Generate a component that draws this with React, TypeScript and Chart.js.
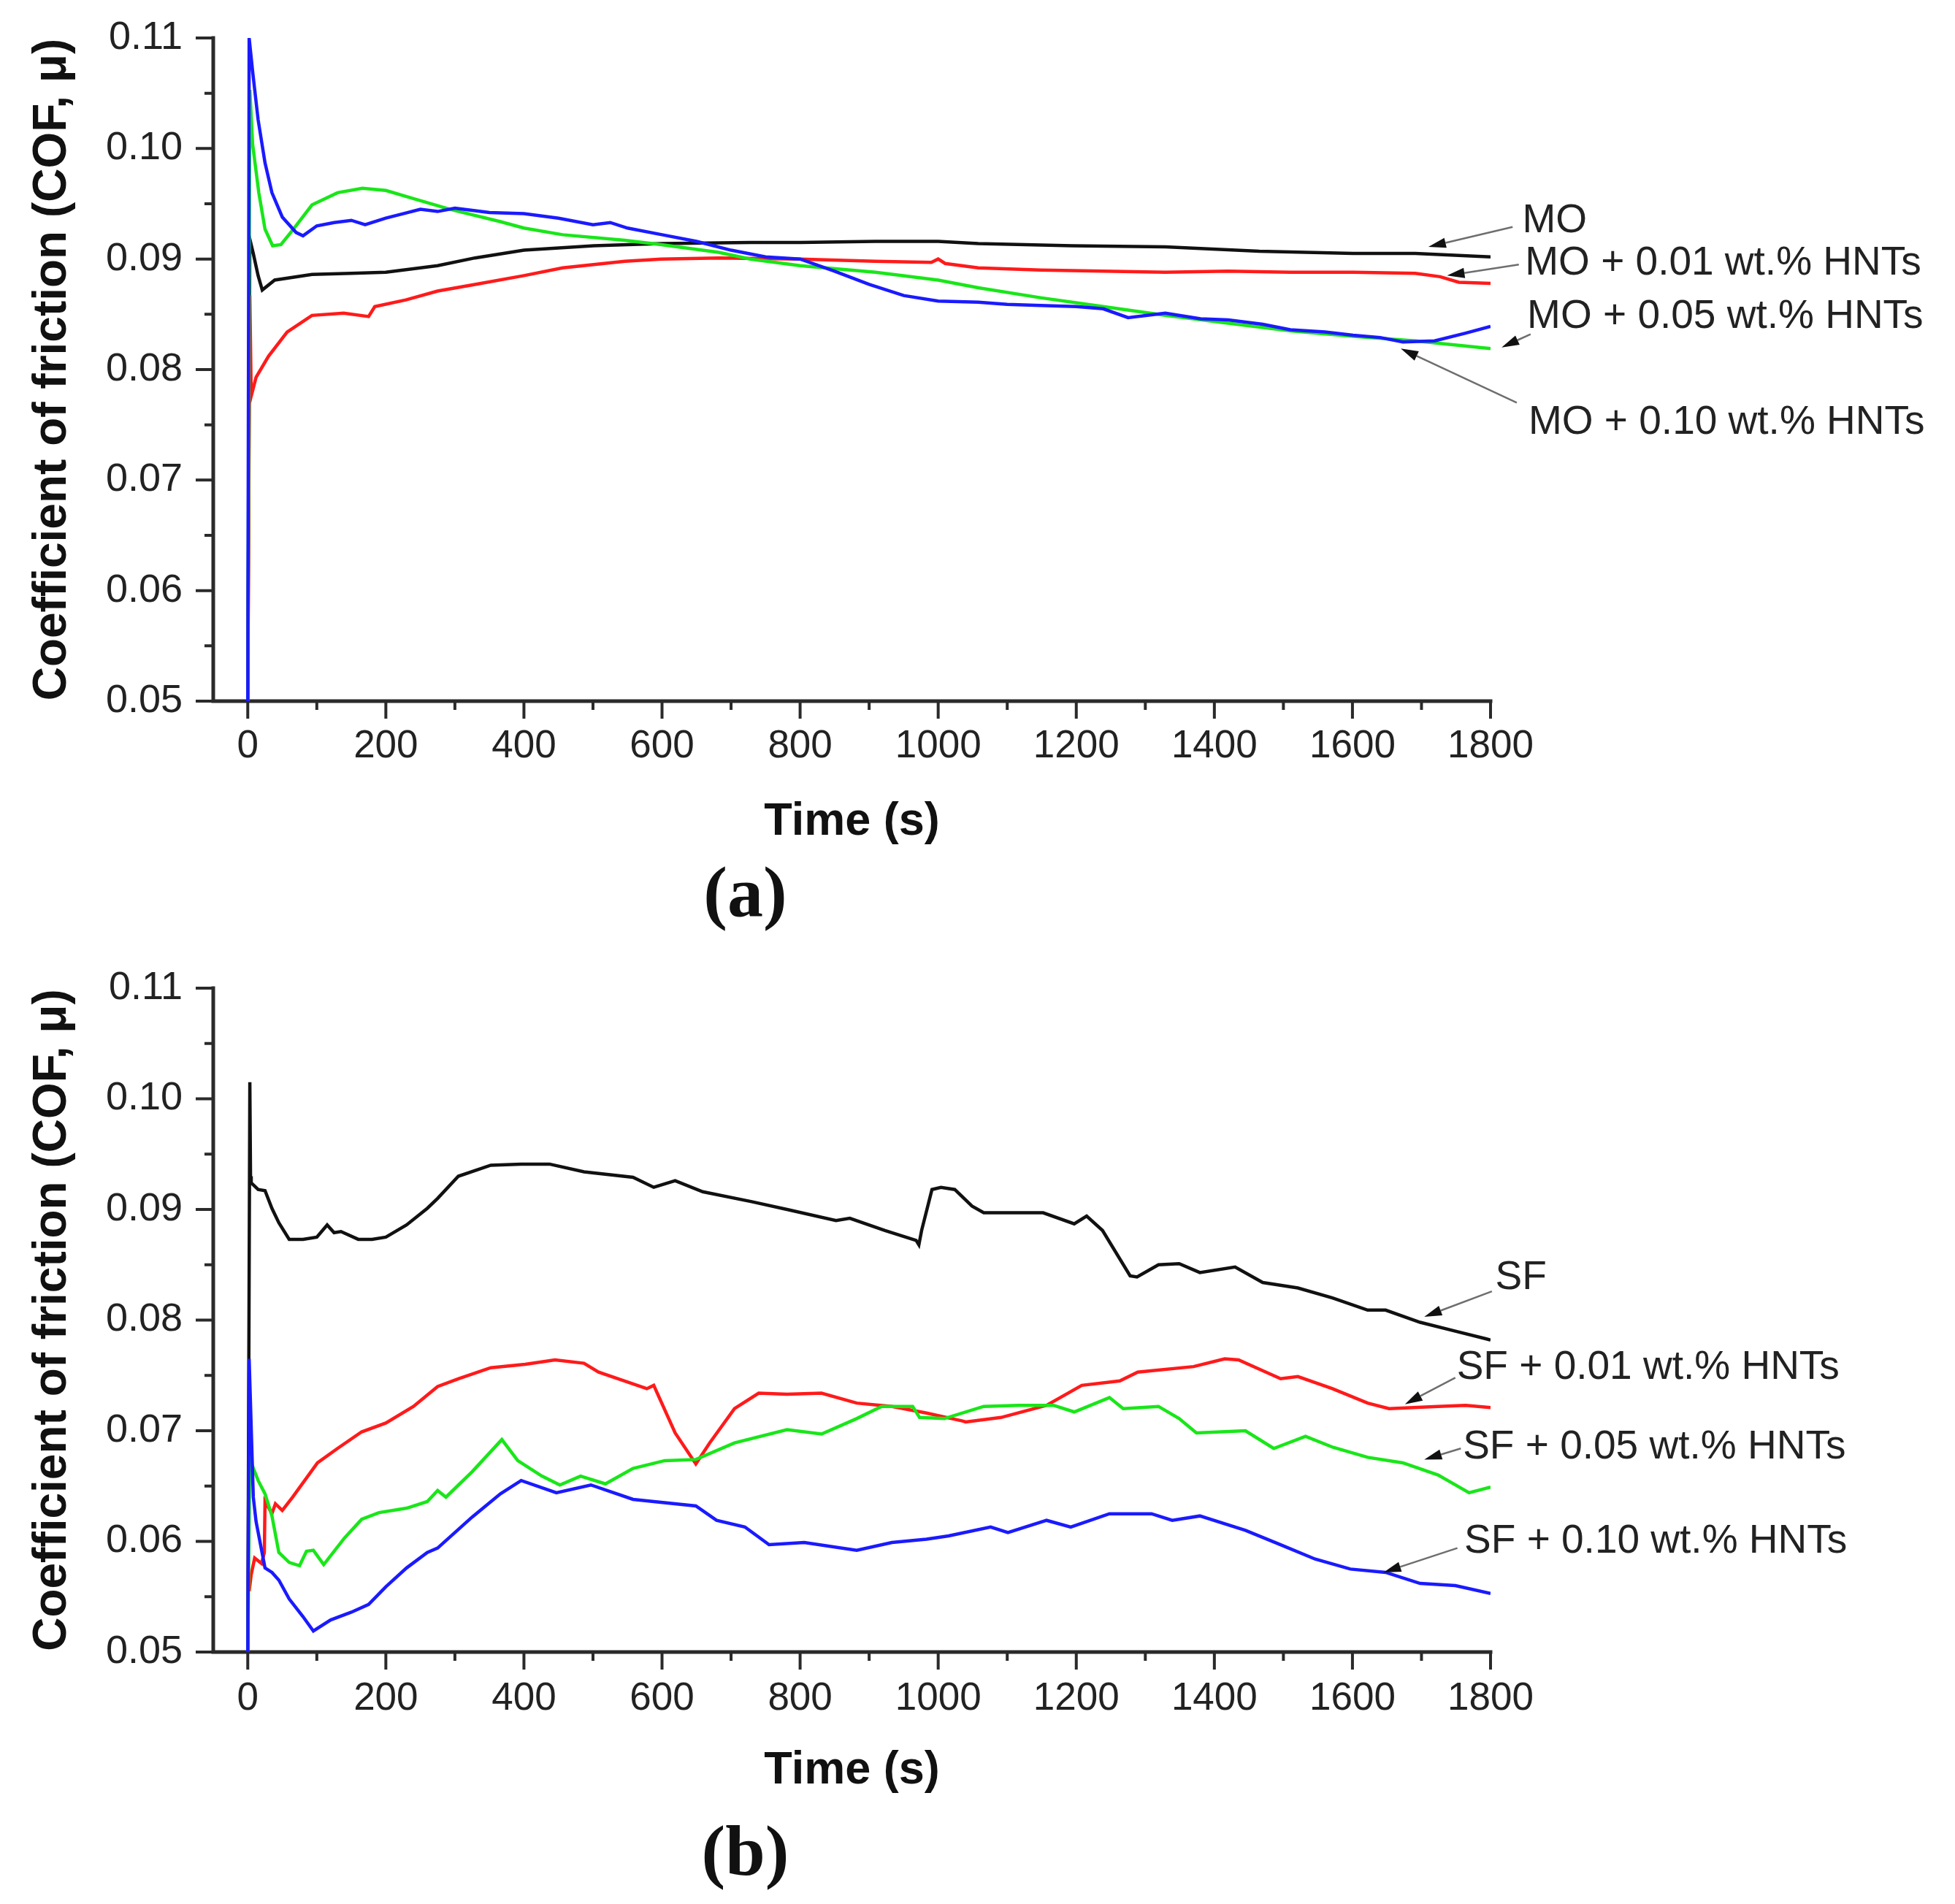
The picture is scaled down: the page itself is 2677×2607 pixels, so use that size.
import React, { useEffect, useRef } from "react";
import { Chart, registerables } from "chart.js";

Chart.register(...registerables);

// ---------- axis ticks ----------
const X_TICKS = [0, 100, 200, 300, 400, 500, 600, 700, 800, 900, 1000, 1100, 1200, 1300, 1400, 1500, 1600, 1700, 1800];
const Y_TICKS = [0.05, 0.055, 0.06, 0.065, 0.07, 0.075, 0.08, 0.085, 0.09, 0.095, 0.1, 0.105, 0.11];
const X_MIN = -50;
const X_MAX = 1800;
const Y_MIN = 0.05;
const Y_MAX = 0.11;

// ---------- panel (a): mineral oil ----------
const MO_T = [0, 3, 8, 15, 21, 39, 93, 150, 200, 275, 329, 400, 501, 599, 728, 800, 909, 1000, 1058, 1194, 1329, 1465, 1601, 1691, 1800];
const MO_MU = [0.05, 0.0918, 0.0905, 0.0885, 0.0872, 0.0881, 0.0886, 0.0887, 0.0888, 0.0894, 0.0901, 0.0908, 0.0912, 0.0914, 0.0915, 0.0915, 0.0916, 0.0916, 0.0914, 0.0912, 0.0911, 0.0907, 0.0905, 0.0905, 0.0902];

const MO01_T = [0, 3, 5, 12, 30, 57, 93, 139, 175, 184, 229, 275, 329, 400, 456, 546, 599, 682, 800, 909, 990, 1000, 1010, 1058, 1148, 1239, 1329, 1420, 1510, 1601, 1691, 1727, 1754, 1800];
const MO01_MU = [0.05, 0.0867, 0.0776, 0.0793, 0.0812, 0.0834, 0.0849, 0.0851, 0.0848, 0.0857, 0.0863, 0.0871, 0.0877, 0.0885, 0.0892, 0.0898, 0.09, 0.0901, 0.09, 0.0898, 0.0897, 0.09, 0.0896, 0.0892, 0.089, 0.0889, 0.0888, 0.0889, 0.0888, 0.0888, 0.0887, 0.0884, 0.0879, 0.0878];

const MO05_T = [0, 3, 7, 16, 25, 36, 48, 66, 93, 130, 166, 200, 238, 293, 365, 400, 456, 546, 599, 682, 728, 800, 909, 1000, 1058, 1148, 1239, 1329, 1420, 1510, 1601, 1691, 1800];
const MO05_MU = [0.05, 0.1053, 0.1004, 0.096, 0.0927, 0.0912, 0.0913, 0.0927, 0.0949, 0.096, 0.0964, 0.0962, 0.0955, 0.0945, 0.0934, 0.0928, 0.0922, 0.0917, 0.0913, 0.0906, 0.09, 0.0894, 0.0888, 0.0881, 0.0874, 0.0865, 0.0857, 0.0849, 0.0842, 0.0835, 0.083, 0.0826, 0.0819];

const MO10_T = [0, 2, 7, 15, 25, 35, 50, 70, 80, 100, 125, 150, 170, 200, 225, 250, 275, 300, 325, 350, 400, 450, 500, 525, 550, 600, 650, 700, 750, 800, 850, 900, 950, 1000, 1058, 1100, 1148, 1200, 1239, 1275, 1329, 1380, 1420, 1470, 1510, 1560, 1601, 1640, 1673, 1719, 1764, 1800];
const MO10_MU = [0.05, 0.11, 0.107, 0.1026, 0.0987, 0.096, 0.0938, 0.0924, 0.0921, 0.093, 0.0933, 0.0935, 0.0931, 0.0937, 0.0941, 0.0945, 0.0943, 0.0946, 0.0944, 0.0942, 0.0941, 0.0937, 0.0931, 0.0933, 0.0928, 0.0922, 0.0916, 0.0908, 0.0902, 0.09, 0.0889, 0.0877, 0.0867, 0.0862, 0.0861, 0.0859, 0.0858, 0.0857, 0.0855, 0.0847, 0.0851, 0.0846, 0.0845, 0.0841, 0.0836, 0.0834, 0.0831, 0.0829, 0.0825, 0.0826, 0.0833, 0.0839];

// ---------- panel (b): sunflower oil ----------
const SF_T = [0, 3, 4, 5, 15, 25, 35, 45, 60, 80, 100, 115, 125, 135, 160, 180, 200, 230, 260, 275, 305, 352, 396, 437, 487, 558, 588, 619, 659, 730, 781, 852, 872, 923, 968, 972, 976, 991, 1004, 1024, 1049, 1066, 1152, 1197, 1215, 1238, 1278, 1288, 1319, 1349, 1379, 1430, 1470, 1521, 1571, 1622, 1648, 1698, 1749, 1794, 1800];
const SF_MU = [0.05, 0.1015, 0.093, 0.0924, 0.0918, 0.0917, 0.0901, 0.0888, 0.0873, 0.0873, 0.0875, 0.0886, 0.0879, 0.088, 0.0873, 0.0873, 0.0875, 0.0886, 0.0901, 0.091, 0.093, 0.094, 0.0941, 0.0941, 0.0934, 0.0929, 0.092, 0.0926, 0.0916, 0.0907, 0.09, 0.089, 0.0892, 0.0881, 0.0872, 0.0868, 0.0881, 0.0918, 0.092, 0.0918, 0.0903, 0.0897, 0.0897, 0.0887, 0.0894, 0.0881, 0.084, 0.0839, 0.085, 0.0851, 0.0843, 0.0848, 0.0834, 0.0829, 0.082, 0.0809, 0.0809, 0.0798, 0.079, 0.0783, 0.0782];

const SF01_T = [2, 5, 10, 20, 24, 25, 35, 40, 50, 65, 101, 130, 165, 200, 240, 275, 305, 352, 402, 445, 487, 508, 578, 588, 619, 649, 669, 705, 740, 781, 831, 882, 933, 983, 1034, 1040, 1091, 1157, 1208, 1263, 1289, 1370, 1415, 1435, 1496, 1521, 1571, 1622, 1653, 1724, 1764, 1800];
const SF01_MU = [0.0555, 0.057, 0.0585, 0.058, 0.059, 0.0636, 0.0625, 0.0634, 0.0628, 0.064, 0.0671, 0.0684, 0.0699, 0.0707, 0.0722, 0.074, 0.0747, 0.0757, 0.076, 0.0764, 0.0761, 0.0753, 0.0738, 0.0741, 0.0698, 0.067, 0.0689, 0.072, 0.0734, 0.0733, 0.0734, 0.0725, 0.0722, 0.0716, 0.0709, 0.0708, 0.0712, 0.0723, 0.0741, 0.0745, 0.0753, 0.0758, 0.0765, 0.0764, 0.0747, 0.0749, 0.0738, 0.0725, 0.072, 0.0722, 0.0723, 0.0721];

const SF05_T = [0, 3, 5, 15, 25, 35, 45, 60, 75, 85, 95, 110, 140, 165, 190, 230, 260, 275, 287, 325, 368, 391, 426, 452, 482, 518, 558, 604, 649, 705, 781, 831, 882, 918, 963, 973, 1009, 1066, 1116, 1167, 1197, 1248, 1268, 1319, 1349, 1374, 1445, 1486, 1532, 1572, 1622, 1673, 1724, 1769, 1800];
const SF05_MU = [0.05, 0.068, 0.0671, 0.0655, 0.0643, 0.0623, 0.059, 0.0581, 0.0578, 0.0591, 0.0592, 0.0579, 0.0603, 0.062, 0.0626, 0.063, 0.0636, 0.0646, 0.064, 0.0663, 0.0692, 0.0673, 0.0659, 0.0651, 0.0659, 0.0652, 0.0666, 0.0673, 0.0674, 0.0689, 0.0701, 0.0697, 0.0711, 0.0722, 0.0722, 0.0712, 0.0711, 0.0722, 0.0723, 0.0723, 0.0717, 0.073, 0.072, 0.0722, 0.0711, 0.0698, 0.07, 0.0684, 0.0695, 0.0685, 0.0676, 0.0671, 0.066, 0.0644, 0.0649];

const SF10_T = [0, 2, 8, 12, 25, 35, 45, 60, 80, 95, 120, 150, 175, 200, 230, 260, 275, 325, 366, 396, 447, 497, 558, 649, 679, 720, 755, 806, 882, 933, 983, 1015, 1076, 1101, 1157, 1192, 1248, 1309, 1339, 1379, 1445, 1496, 1546, 1597, 1648, 1698, 1749, 1800];
const SF10_MU = [0.05, 0.0765, 0.064, 0.0618, 0.0576, 0.0572, 0.0565, 0.0548, 0.0532, 0.0519, 0.0529, 0.0536, 0.0543, 0.0559, 0.0576, 0.059, 0.0594, 0.0622, 0.0643, 0.0655, 0.0644, 0.0651, 0.0638, 0.0632, 0.0619, 0.0613, 0.0597, 0.0599, 0.0592, 0.0599, 0.0602, 0.0605, 0.0613, 0.0608, 0.0619, 0.0613, 0.0625, 0.0625, 0.0619, 0.0623, 0.061, 0.0597, 0.0584, 0.0575, 0.0572, 0.0562, 0.056, 0.0553];

// ---------- annotation labels (data units) ----------
const A_NOTE_TEXT = ["MO", "MO + 0.01 wt.% HNTs", "MO + 0.05 wt.% HNTs", "MO + 0.10 wt.% HNTs"];
const A_NOTE_X = [1846, 1850, 1853, 1855];
const A_NOTE_Y = [0.0934, 0.0896, 0.0848, 0.0752];
const A_ARROW_FROM_X = [1832, 1841, 1858, 1838];
const A_ARROW_FROM_Y = [0.0929, 0.0895, 0.0832, 0.077];
const A_ARROW_TIP_X = [1710, 1737, 1816, 1670];
const A_ARROW_TIP_Y = [0.0911, 0.0885, 0.082, 0.0819];

const B_NOTE_TEXT = ["SF", "SF + 0.01 wt.% HNTs", "SF + 0.05 wt.% HNTs", "SF + 0.10 wt.% HNTs"];
const B_NOTE_X = [1807, 1751, 1760, 1762];
const B_NOTE_Y = [0.0838, 0.0757, 0.0685, 0.06];
const B_ARROW_FROM_X = [1802, 1749, 1757, 1752];
const B_ARROW_FROM_Y = [0.0826, 0.0748, 0.0684, 0.0594];
const B_ARROW_TIP_X = [1704, 1676, 1704, 1645];
const B_ARROW_TIP_Y = [0.0803, 0.0724, 0.0674, 0.0572];

const SERIES_COLORS = ["#111111", "#ff1a1a", "#19e619", "#1a1aff"];

// ---------- layout / style ----------
const W = 2677;
const SANS = "'Liberation Sans', Arial, Helvetica, sans-serif";
const SERIF = "'Liberation Serif', 'Times New Roman', serif";
const AXIS_COLOR = "#2a2a2a";
const TEXT_COLOR = "#222222";

const isMajorY = (v: number) => Math.abs(v * 100 - Math.round(v * 100)) < 1e-6;
const isMajorX = (v: number) => Math.round(v) % 200 === 0;

const axesPlugin = {
  id: "originAxes",
  beforeDatasetsDraw(chart: any) {
    const { ctx, chartArea, scales } = chart;
    const { left, right, top, bottom } = chartArea;
    ctx.save();
    ctx.strokeStyle = AXIS_COLOR;
    ctx.lineWidth = 5;
    ctx.lineCap = "square";
    ctx.beginPath();
    ctx.moveTo(left, top);
    ctx.lineTo(left, bottom);
    ctx.lineTo(right, bottom);
    ctx.stroke();
    ctx.lineCap = "butt";
    ctx.lineWidth = 4;
    ctx.beginPath();
    for (const v of X_TICKS) {
      const px = scales.x.getPixelForValue(v);
      const len = isMajorX(v) ? 24 : 12;
      ctx.moveTo(px, bottom);
      ctx.lineTo(px, bottom + len);
    }
    for (const v of Y_TICKS) {
      const py = scales.y.getPixelForValue(v);
      const len = isMajorY(v) ? 24 : 12;
      ctx.moveTo(left, py);
      ctx.lineTo(left - len, py);
    }
    ctx.stroke();
    ctx.restore();
  },
};

const notesPlugin = {
  id: "arrowNotes",
  afterDraw(chart: any, _args: any, opts: any) {
    const { ctx, scales } = chart;
    const n = opts.text ? opts.text.length : 0;
    ctx.save();
    for (let i = 0; i < n; i++) {
      const tx = scales.x.getPixelForValue(opts.x[i]);
      const ty = scales.y.getPixelForValue(opts.y[i]);
      ctx.font = `55px ${SANS}`;
      ctx.fillStyle = TEXT_COLOR;
      ctx.textAlign = "left";
      ctx.textBaseline = "middle";
      ctx.fillText(opts.text[i], tx, ty);

      const fx = scales.x.getPixelForValue(opts.fromX[i]);
      const fy = scales.y.getPixelForValue(opts.fromY[i]);
      const ax = scales.x.getPixelForValue(opts.tipX[i]);
      const ay = scales.y.getPixelForValue(opts.tipY[i]);
      const ang = Math.atan2(ay - fy, ax - fx);
      const headLen = 24;
      const headHalf = 7;
      const bx = ax - headLen * Math.cos(ang);
      const by = ay - headLen * Math.sin(ang);
      ctx.strokeStyle = "#6e6e6e";
      ctx.lineWidth = 2.5;
      ctx.beginPath();
      ctx.moveTo(fx, fy);
      ctx.lineTo(bx, by);
      ctx.stroke();
      ctx.fillStyle = "#111111";
      ctx.beginPath();
      ctx.moveTo(ax, ay);
      ctx.lineTo(bx + headHalf * Math.sin(ang), by - headHalf * Math.cos(ang));
      ctx.lineTo(bx - headHalf * Math.sin(ang), by + headHalf * Math.cos(ang));
      ctx.closePath();
      ctx.fill();
    }
    ctx.restore();
  },
};

type PanelCfg = {
  top: number;
  height: number;
  plotTop: number;
  plotBottom: number;
  tickLabelOffset: number;
  timeOffset: number;
  panelOffset: number;
  panelLabel: string;
  series: { t: number[]; mu: number[] }[];
  notes: any;
};

function buildConfig(cfg: PanelCfg): any {
  const plotLeft = 292;
  const plotRight = 2041;
  const titleFont = 98;
  const titleLH = titleFont * 1.2;
  const panelCenter = cfg.plotBottom + cfg.panelOffset;
  const titlePadBottom = cfg.height - panelCenter - titleLH / 2;
  const titleBoxTop = cfg.height - titleLH - titlePadBottom;
  const xScaleHeight = titleBoxTop - cfg.plotBottom;
  const tickFont = 53;
  const xLabelGap = cfg.tickLabelOffset - (tickFont * 1.2) / 2;
  const timeFont = 63;
  const timePadBottom = titleBoxTop - (timeFont * 1.2) / 2 - (cfg.plotBottom + cfg.timeOffset);
  const yTitleFont = 64;
  const yTitlePadTop = 72 - (yTitleFont * 1.2) / 2;

  const order = [3, 2, 1, 0];
  const datasets = cfg.series.map((s, i) => ({
    data: s.t.map((t, j) => ({ x: t, y: s.mu[j] })),
    borderColor: SERIES_COLORS[i],
    backgroundColor: SERIES_COLORS[i],
    borderWidth: 4.5,
    pointRadius: 0,
    tension: 0,
    fill: false,
    order: order[i],
  }));

  return {
    type: "line",
    data: { datasets },
    plugins: [axesPlugin, notesPlugin],
    options: {
      responsive: false,
      maintainAspectRatio: false,
      animation: false,
      devicePixelRatio: 1,
      events: [],
      layout: { padding: { left: 0, right: W - plotRight, top: cfg.plotTop, bottom: 0 } },
      plugins: {
        legend: { display: false },
        tooltip: { enabled: false },
        title: {
          display: true,
          position: "bottom",
          text: cfg.panelLabel,
          color: "#111111",
          font: { family: SERIF, weight: "bold", size: titleFont },
          padding: { top: 0, bottom: titlePadBottom },
        },
        arrowNotes: cfg.notes,
      },
      scales: {
        x: {
          type: "linear",
          min: X_MIN,
          max: X_MAX,
          afterBuildTicks: (s: any) => {
            s.ticks = X_TICKS.map((v) => ({ value: v }));
          },
          afterFit: (s: any) => {
            s.height = xScaleHeight;
          },
          // tick marks are drawn by the originAxes plugin; tickLength only spaces the labels
          grid: { display: false, drawTicks: true, tickLength: xLabelGap },
          border: { display: false },
          ticks: {
            autoSkip: false,
            maxRotation: 0,
            padding: 0,
            color: TEXT_COLOR,
            font: { family: SANS, size: tickFont },
            callback: (v: number) => (isMajorX(v) ? String(Math.round(v)) : ""),
          },
          title: {
            display: true,
            text: "Time (s)",
            color: "#111111",
            font: { family: SANS, weight: "bold", size: timeFont },
            padding: { top: 0, bottom: timePadBottom },
          },
        },
        y: {
          type: "linear",
          min: Y_MIN,
          max: Y_MAX,
          afterBuildTicks: (s: any) => {
            s.ticks = Y_TICKS.map((v) => ({ value: v }));
          },
          afterFit: (s: any) => {
            s.width = plotLeft;
          },
          grid: { display: false, drawTicks: true, tickLength: 42 },
          border: { display: false },
          ticks: {
            autoSkip: false,
            padding: 0,
            color: TEXT_COLOR,
            font: { family: SANS, size: 54 },
            callback: (v: number) => (isMajorY(v) ? v.toFixed(2) : ""),
          },
          title: {
            display: true,
            text: "Coefficient of friction (COF, μ)",
            color: "#111111",
            font: { family: SANS, weight: "bold", size: yTitleFont },
            padding: { top: yTitlePadTop, bottom: 0 },
          },
        },
      },
    },
  };
}

const PANEL_A: PanelCfg = {
  top: 0,
  height: 1300,
  plotTop: 52,
  plotBottom: 960,
  tickLabelOffset: 62,
  timeOffset: 166,
  panelOffset: 269,
  panelLabel: "(a)",
  series: [
    { t: MO_T, mu: MO_MU },
    { t: MO01_T, mu: MO01_MU },
    { t: MO05_T, mu: MO05_MU },
    { t: MO10_T, mu: MO10_MU },
  ],
  notes: {
    text: A_NOTE_TEXT,
    x: A_NOTE_X,
    y: A_NOTE_Y,
    fromX: A_ARROW_FROM_X,
    fromY: A_ARROW_FROM_Y,
    tipX: A_ARROW_TIP_X,
    tipY: A_ARROW_TIP_Y,
  },
};

const PANEL_B: PanelCfg = {
  top: 1300,
  height: 1307,
  plotTop: 53,
  plotBottom: 962,
  tickLabelOffset: 64,
  timeOffset: 163,
  panelOffset: 280,
  panelLabel: "(b)",
  series: [
    { t: SF_T, mu: SF_MU },
    { t: SF01_T, mu: SF01_MU },
    { t: SF05_T, mu: SF05_MU },
    { t: SF10_T, mu: SF10_MU },
  ],
  notes: {
    text: B_NOTE_TEXT,
    x: B_NOTE_X,
    y: B_NOTE_Y,
    fromX: B_ARROW_FROM_X,
    fromY: B_ARROW_FROM_Y,
    tipX: B_ARROW_TIP_X,
    tipY: B_ARROW_TIP_Y,
  },
};

function Panel({ cfg }: { cfg: PanelCfg }) {
  const ref = useRef<HTMLCanvasElement | null>(null);
  useEffect(() => {
    if (!ref.current) return;
    const chart = new Chart(ref.current, buildConfig(cfg));
    return () => chart.destroy();
  }, [cfg]);
  return (
    <canvas
      ref={ref}
      width={W}
      height={cfg.height}
      style={{ position: "absolute", left: 0, top: cfg.top, width: W, height: cfg.height, display: "block" }}
    />
  );
}

export default function App() {
  return (
    <div style={{ position: "absolute", left: 0, top: 0, width: W, height: 2607, background: "#ffffff", overflow: "hidden" }}>
      <Panel cfg={PANEL_A} />
      <Panel cfg={PANEL_B} />
    </div>
  );
}
